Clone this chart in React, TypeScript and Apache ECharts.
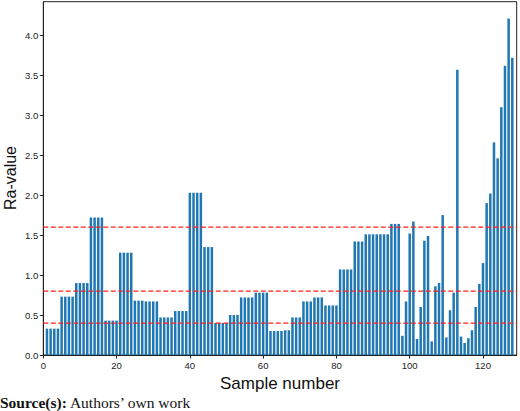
import React, { useEffect, useRef } from "react";
import * as echarts from "echarts";

// Ra roughness value for each sample, samples numbered 1..128
const raValues: number[] = [
  0.33, 0.33, 0.33, 0.33, 0.73, 0.73, 0.73, 0.73, 0.9, 0.9, 0.9, 0.9,
  1.72, 1.72, 1.72, 1.72, 0.43, 0.43, 0.43, 0.43, 1.28, 1.28, 1.28, 1.28,
  0.68, 0.68, 0.68, 0.67, 0.67, 0.67, 0.67, 0.47, 0.47, 0.47, 0.47,
  0.55, 0.55, 0.55, 0.55, 2.03, 2.03, 2.03, 2.03, 1.35, 1.35, 1.35,
  0.4, 0.4, 0.4, 0.4, 0.5, 0.5, 0.5, 0.72, 0.72, 0.72, 0.72,
  0.78, 0.78, 0.78, 0.78, 0.3, 0.3, 0.3, 0.3, 0.31, 0.31,
  0.47, 0.47, 0.47, 0.67, 0.67, 0.67, 0.72, 0.72, 0.72,
  0.62, 0.62, 0.62, 0.62, 1.07, 1.07, 1.07, 1.07, 1.42, 1.42, 1.42,
  1.51, 1.51, 1.51, 1.51, 1.51, 1.51, 1.51, 1.64, 1.64, 1.64,
  0.24, 0.67, 1.52, 1.67, 0.2, 0.6, 1.43, 1.49, 0.17, 0.86, 0.9, 1.75,
  0.22, 0.56, 0.78, 3.57, 0.23, 0.15, 0.21, 0.31, 0.6, 0.89, 1.15, 1.9,
  2.02, 2.66, 2.46, 3.1, 3.62, 4.21, 3.72,
];

// Sample numbers on the horizontal axis
const sampleNumbers: number[] = raValues.map((_, i) => i + 1);

// Reference thresholds drawn as dashed lines
const thresholds: number[] = [0.4, 0.8, 1.6];

// Tick labels
const xTicks: number[] = [0, 20, 40, 60, 80, 100, 120];
const yTicks: number[] = [0, 0.5, 1.0, 1.5, 2.0, 2.5, 3.0, 3.5, 4.0];

const X_MAX = 129.2;
const Y_MAX = 4.42;

const SANS = "'Liberation Sans', Arial, sans-serif";
const SERIF = "'Liberation Serif', 'Times New Roman', serif";

export default function App() {
  const ref = useRef<HTMLDivElement>(null);

  useEffect(() => {
    if (!ref.current) return;
    const chart = echarts.init(ref.current, undefined, { renderer: "svg" });

    const axisColor = "#222";

    const thresholdSeries = thresholds.map((t) => ({
      type: "line",
      data: [
        [0, t],
        [X_MAX, t],
      ],
      symbol: "none",
      silent: true,
      z: 5,
      lineStyle: { color: "#ff1f1f", width: 1.2, type: [5, 2.5] },
    }));

    chart.setOption({
      animation: false,
      backgroundColor: "#fff",
      grid: {
        left: 43.3,
        right: 3.3,
        top: 1.7,
        bottom: 56,
        show: true,
        borderColor: axisColor,
        borderWidth: 1,
        containLabel: false,
        outerBoundsMode: "none",
      },
      xAxis: {
        type: "value",
        min: 0,
        max: X_MAX,
        name: "Sample number",
        nameLocation: "middle",
        nameGap: 18,
        nameTextStyle: { fontFamily: SANS, fontSize: 17, color: "#111" },
        splitLine: { show: false },
        axisLine: { show: true, lineStyle: { color: axisColor, width: 1 } },
        axisTick: {
          show: true,
          inside: false,
          length: 3.5,
          customValues: xTicks,
          lineStyle: { color: axisColor, width: 1 },
        },
        axisLabel: {
          customValues: xTicks,
          fontFamily: SANS,
          fontSize: 9.5,
          color: "#222",
          margin: 5,
          formatter: (v: number) => String(v),
        },
      },
      yAxis: {
        type: "value",
        min: 0,
        max: Y_MAX,
        splitLine: { show: false },
        axisLine: { show: true, lineStyle: { color: axisColor, width: 1 } },
        axisTick: {
          show: true,
          inside: false,
          length: 3.5,
          customValues: yTicks,
          lineStyle: { color: axisColor, width: 1 },
        },
        axisLabel: {
          customValues: yTicks,
          fontFamily: SANS,
          fontSize: 9.5,
          color: "#222",
          margin: 5,
          formatter: (v: number) => v.toFixed(1),
        },
      },
      series: [
        {
          type: "bar",
          data: sampleNumbers.map((n, i) => [n, raValues[i]]),
          barWidth: 2.5,
          itemStyle: { color: "#1f77b4" },
          z: 2,
        },
        ...thresholdSeries,
      ],
      graphic: [
        {
          // vertical axis title
          type: "text",
          x: 10,
          y: 178,
          rotation: Math.PI / 2,
          style: {
            text: "Ra-value",
            fontFamily: SANS,
            fontSize: 16,
            fill: "#111",
            align: "center",
            verticalAlign: "middle",
          },
        },
        {
          type: "text",
          x: 0,
          y: 394,
          style: {
            text: "{b|Source(s):} Authors\u2019 own work",
            fontFamily: SERIF,
            fontSize: 15.5,
            fill: "#111",
            verticalAlign: "top",
            rich: {
              b: { fontFamily: SERIF, fontSize: 15.5, fontWeight: "bold", fill: "#111" },
            },
          },
        },
      ],
    });

    return () => chart.dispose();
  }, []);

  return (
    <div
      ref={ref}
      style={{ position: "fixed", left: 0, top: 0, width: 520, height: 411, background: "#fff" }}
    />
  );
}
